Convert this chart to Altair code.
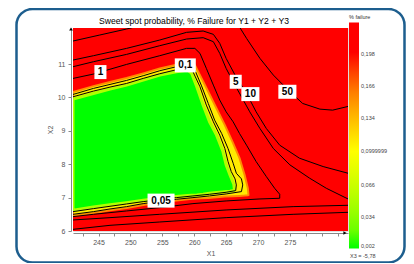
import altair as alt
import pandas as pd

# ---------------- data ----------------
x_domain = [241.0, 284.1]
y_domain = [6.0, 12.08]

# colour bar (% failure)
bar_values = [0.002, 0.034, 0.066, 0.0999999, 0.134, 0.166, 0.198]
color_stops = [0.002, 0.1, 0.19, 0.23]
color_range = ["#00ff00", "#ffff00", "#ff0000", "#ff0000"]

background_level = 0.23
fringe_level = 0.11
green_level = 0.002

# fringe (yellow/orange) region around the sweet spot
fringe_x = [241.0, 244.2, 246.8, 249.4, 252.0, 254.6, 257.2, 259.3, 260.1, 260.9,
            262.2, 263.5, 264.8, 266.0, 267.1, 267.9, 268.4, 268.5]
fringe_top = [10.16, 10.34, 10.46, 10.58, 10.72, 10.87, 10.98, 11.02, 10.97, 10.67,
              10.17, 9.67, 9.17, 8.67, 8.18, 7.68, 7.28, 7.08]
fringe_bottom = [6.46, 6.54, 6.62, 6.69, 6.78, 6.85, 6.91, 6.96, 6.97, 6.98,
                 6.99, 7.01, 7.03, 7.04, 7.05, 7.06, 7.07, 7.08]

# green sweet spot region
green_x = [241.0, 244.2, 246.8, 249.4, 252.0, 254.6, 257.2, 259.0, 259.6, 260.4,
           261.4, 262.4, 263.5, 264.5, 265.0, 265.6, 266.2, 266.3]
green_top = [9.95, 10.12, 10.25, 10.37, 10.52, 10.67, 10.77, 10.82, 10.72, 10.32,
             9.77, 9.27, 8.87, 8.38, 7.98, 7.68, 7.40, 7.25]
green_bottom = [6.62, 6.72, 6.79, 6.85, 6.92, 6.98, 7.03, 7.06, 7.07, 7.08,
                7.10, 7.13, 7.15, 7.17, 7.18, 7.19, 7.21, 7.25]

# contour lines
c005_x = [241.0, 244.2, 246.8, 249.4, 252.0, 254.6, 257.2, 259.3, 259.8, 260.9, 261.9, 263.0,
          264.0, 264.8, 265.3, 265.8, 266.4, 266.6, 266.5, 265.0, 262.4, 259.8, 257.2, 254.6,
          252.0, 249.4, 246.8, 244.2, 241.0]
c005_y = [10.02, 10.19, 10.31, 10.42, 10.57, 10.71, 10.83, 10.87, 10.77, 10.32, 9.77, 9.27,
          8.87, 8.47, 8.08, 7.78, 7.56, 7.38, 7.21, 7.16, 7.10, 7.05, 7.00, 6.94,
          6.88, 6.81, 6.74, 6.67, 6.58]
c01_x = [241.0, 244.2, 246.8, 249.4, 252.0, 254.6, 257.2, 259.6, 260.1, 261.1, 262.2, 263.2,
         264.3, 265.3, 266.1, 266.6, 267.4, 267.6, 267.4, 265.0, 262.4, 259.8, 257.2, 254.6,
         252.0, 249.4, 246.8, 244.2, 241.0]
c01_y = [10.09, 10.27, 10.39, 10.51, 10.65, 10.80, 10.92, 10.95, 10.82, 10.37, 9.82, 9.32,
         8.92, 8.47, 8.03, 7.73, 7.56, 7.38, 7.18, 7.11, 7.05, 7.00, 6.95, 6.89,
         6.82, 6.73, 6.66, 6.58, 6.50]
c1_x = [241.0, 244.2, 249.4, 254.6, 258.8, 260.1, 260.9, 261.9, 263.0, 264.0, 265.0, 266.1,
        267.1, 268.2, 269.7, 271.3, 272.6, 273.4, 273.4, 270.3, 265.0, 259.8, 254.6, 249.4,
        244.2, 241.0]
c1_y = [10.57, 10.70, 10.99, 11.25, 11.47, 11.47, 11.32, 10.87, 10.37, 9.92, 9.57, 9.27,
        8.92, 8.57, 8.08, 7.63, 7.28, 7.10, 6.98, 6.96, 6.90, 6.82, 6.70, 6.60,
        6.50, 6.43]
c5_x = [241.0, 244.2, 249.4, 254.6, 258.8, 261.4, 263.0, 264.0, 265.0, 266.1, 267.4, 268.7,
        270.3, 272.4, 275.0, 278.1, 280.7, 284.1]
c5_y = [10.92, 11.07, 11.29, 11.55, 11.75, 11.79, 11.67, 11.32, 10.87, 10.47, 10.02, 9.57,
        9.07, 8.47, 7.98, 7.58, 7.28, 6.96]
c5b_x = [284.1, 275.5, 265.0, 254.6, 246.8, 241.0]
c5b_y = [6.77, 6.73, 6.63, 6.50, 6.40, 6.33]
c10_x = [241.0, 244.2, 249.4, 254.6, 258.8, 261.4, 263.0, 264.0, 265.0, 266.4, 268.2, 269.7,
         271.3, 273.4, 276.5, 280.2, 284.1]
c10_y = [11.12, 11.25, 11.47, 11.72, 11.95, 11.99, 11.89, 11.62, 11.17, 10.67, 10.12, 9.57,
         9.07, 8.57, 8.18, 7.93, 7.73]
c10b_x = [284.1, 275.5, 265.0, 254.6, 246.8, 241.0]
c10b_y = [6.56, 6.50, 6.40, 6.27, 6.17, 6.05]
c50a_x = [241.0, 245.2, 249.4, 252.0]
c50a_y = [11.69, 11.87, 12.05, 12.17]
c50b_x = [266.9, 268.2, 270.3, 272.4, 275.0, 277.0, 279.7, 281.7, 284.3]
c50b_y = [12.17, 11.77, 11.17, 10.67, 10.17, 9.82, 9.65, 9.62, 9.74]

# contour labels
label_text = ["1", "0,1", "5", "10", "50", "0,05"]
label_x = [245.3, 258.6, 266.5, 268.8, 274.6, 254.8]
label_y = [10.76, 10.96, 10.47, 10.10, 10.17, 6.91]

x_ticks = [242.5, 245, 247.5, 250, 252.5, 255, 257.5, 260, 262.5, 265, 267.5,
           270, 272.5, 275, 277.5, 280, 282.5]
y_ticks = [6, 7, 8, 9, 10, 11]

chart_title = "Sweet spot probability, % Failure for Y1 + Y2 + Y3"
legend_title = "% failure"
x3_note = "X3 = -5,78"

# ---------------- build tables ----------------
segs = [("c005", c005_x, c005_y), ("c01", c01_x, c01_y), ("c1", c1_x, c1_y),
        ("c5", c5_x, c5_y), ("c5b", c5b_x, c5b_y), ("c10", c10_x, c10_y),
        ("c10b", c10b_x, c10b_y), ("c50a", c50a_x, c50a_y), ("c50b", c50b_x, c50b_y)]
rows = []
for name, xs_, ys_ in segs:
    for i, (a, b) in enumerate(zip(xs_, ys_)):
        rows.append({"seg": name, "i": i, "x": a, "y": b})
contours = pd.DataFrame(rows)

bg = pd.DataFrame({"x": [x_domain[0]], "x2": [x_domain[1]], "y": [y_domain[0]],
                   "y2": [y_domain[1]], "v": [background_level]})
fringe = pd.DataFrame({"x": fringe_x, "y": fringe_bottom, "y2": fringe_top, "v": fringe_level})
green = pd.DataFrame({"x": green_x, "y": green_bottom, "y2": green_top, "v": green_level})
labels = pd.DataFrame({"label": label_text, "x": label_x, "y": label_y})
one = pd.DataFrame({"a": [0]})

# ---------------- encodings ----------------
FONT = "Liberation Sans"
xs = alt.Scale(domain=x_domain, nice=False, zero=False)
ys = alt.Scale(domain=y_domain, nice=False, zero=False)
x_axis = alt.Axis(values=x_ticks, offset=2, grid=False, tickSize=3,
                  labelExpr="datum.value % 5 == 0 && datum.value <= 275 ? datum.label : ''",
                  labelFontSize=7, labelColor="#555", domainColor="#888", tickColor="#888",
                  titleFontSize=7, titleFontWeight="normal", titleColor="#555", titlePadding=4,
                  labelPadding=2)
y_axis = alt.Axis(values=y_ticks, offset=2, grid=False, tickSize=3, format="d",
                  labelFontSize=7, labelColor="#555", domainColor="#888", tickColor="#888",
                  titleFontSize=7, titleFontWeight="normal", titleColor="#555", titlePadding=4,
                  labelPadding=3)
X = alt.X("x:Q", scale=xs, axis=x_axis, title="X1")
Y = alt.Y("y:Q", scale=ys, axis=y_axis, title="X2")

color = alt.Color(
    "v:Q",
    scale=alt.Scale(domain=color_stops, range=color_range),
    legend=alt.Legend(title=legend_title, orient="none", legendX=276, legendY=-13,
                      direction="vertical", gradientLength=226, gradientThickness=10,
                      values=bar_values, labelExpr="replace(toString(datum.value), '.', ',')",
                      labelFontSize=5.5, titleFontSize=5.5, labelOverlap=False,
                      labelColor="#444", titleColor="#333", titleFontWeight="normal",
                      gradientStrokeWidth=0, labelOffset=2, titlePadding=2, labelFont=FONT,
                      titleFont=FONT),
)

background = alt.Chart(bg).mark_rect().encode(x=X, x2="x2:Q", y=Y, y2="y2:Q", color=color)

fringe_layer = alt.Chart(fringe).mark_area(stroke="#ff8c00", strokeWidth=2, clip=True).encode(
    x=X, y=Y, y2="y2:Q", color=color)

green_layer = alt.Chart(green).mark_area(stroke="#b0ff00", strokeWidth=3, clip=True).encode(
    x=X, y=Y, y2="y2:Q", color=color)

lines = alt.Chart(contours).mark_line(color="black", strokeWidth=1, clip=True).encode(
    x=X, y=Y, detail="seg:N", order="i:Q")

paths = ["M-0.86,-1H0.86V1H-0.86Z", "M-1.29,-1H1.29V1H-1.29Z",
         "M-1.5,-1H1.5V1H-1.5Z", "M-1.93,-1H1.93V1H-1.93Z"]
boxes = alt.Chart(labels).transform_calculate(n="length(datum.label)").mark_point(
    filled=True, color="white", opacity=1, size=196).encode(
    x=X, y=Y, shape=alt.Shape("n:O", scale=alt.Scale(domain=[1, 2, 3, 4], range=paths),
                              legend=None))
texts = alt.Chart(labels).mark_text(fontWeight="bold", fontSize=10, font=FONT,
                                    color="black", baseline="middle").encode(
    x=X, y=Y, text="label:N")

frame = alt.Chart(one).mark_rect(fillOpacity=0, stroke="#1d5e8e", strokeWidth=2.5,
                                 cornerRadius=16).encode(
    x=alt.value(-56.5), x2=alt.value(331.5), y=alt.value(-19), y2=alt.value(234.5))

title = alt.Chart(one).mark_text(text=chart_title, fontSize=8.6, font=FONT, color="black",
                                 baseline="alphabetic").encode(
    x=alt.value(121), y=alt.value(-4))
note = alt.Chart(one).mark_text(text=x3_note, fontSize=5.5, font=FONT, color="#444",
                                align="left", baseline="alphabetic").encode(
    x=alt.value(277), y=alt.value(230))
arrow_x = alt.Chart(one).mark_point(shape="triangle-right", filled=True, size=14,
                                    color="black", opacity=1).encode(
    x=alt.value(272), y=alt.value(205))
arrow_y = alt.Chart(one).mark_point(shape="triangle-up", filled=True, size=14,
                                    color="black", opacity=1).encode(
    x=alt.value(-2), y=alt.value(1))

chart = alt.layer(background, fringe_layer, green_layer, lines, boxes, texts, frame, title,
                  note, arrow_x, arrow_y).properties(
    width=275, height=203,
    autosize=alt.AutoSizeParams(type="none"),
    padding={"left": 65, "top": 20, "right": 58, "bottom": 32},
).configure_view(stroke=None).configure(font=FONT)

chart.save("out.html", embed_options={"renderer": "svg", "actions": False})
